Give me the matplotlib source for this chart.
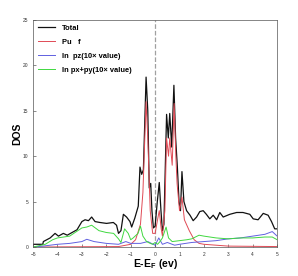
import numpy as np
import matplotlib
matplotlib.use('Agg')
from matplotlib import pyplot as plt

plt.rcParams['font.family'] = ['Liberation Sans', 'DejaVu Sans']
plt.rcParams['mathtext.fontset'] = 'custom'
plt.rcParams['mathtext.bf'] = 'Liberation Sans:bold'

# Values (energy in eV, DOS)
total_e = [-5.0, -4.6, -4.58, -4.3, -4.1, -3.96, -3.76, -3.6, -3.4, -3.2, -3.0, -2.87, -2.73, -2.6,
           -2.46, -2.26, -1.99, -1.71, -1.58, -1.5, -1.4, -1.3, -1.17, -1.03, -0.96, -0.83, -0.69,
           -0.62, -0.55, -0.48, -0.37, -0.3, -0.24, -0.18, -0.13, -0.07, 0.0, 0.09, 0.17, 0.24,
           0.3, 0.36, 0.47, 0.54, 0.6, 0.68, 0.77, 0.84, 0.91, 0.98, 1.04, 1.1, 1.18, 1.29, 1.43,
           1.56, 1.7, 1.83, 1.97, 2.1, 2.24, 2.38, 2.52, 2.65, 2.79, 3.06, 3.34, 3.6, 3.88, 4.02,
           4.22, 4.43, 4.63, 4.77, 4.9, 5.0]
total_dos = [0.3, 0.3, 0.6, 1.0, 1.5, 1.2, 1.5, 1.3, 1.6, 1.9, 2.8, 3.0, 2.9, 3.3,
             2.8, 2.7, 2.6, 2.7, 2.4, 1.5, 1.8, 3.6, 3.3, 2.8, 2.2, 3.2, 4.5,
             8.8, 8.0, 8.5, 18.7, 15.0, 6.5, 7.0, 4.0, 2.1, 2.3, 5.0, 7.1, 4.0,
             1.8, 2.5, 14.6, 12.0, 14.7, 11.0, 17.8, 12.0, 8.9, 5.0, 4.0, 8.3, 5.0, 4.0, 3.5,
             2.9, 3.3, 3.9, 4.0, 3.6, 3.1, 3.5, 3.0, 3.8, 3.3, 3.6, 3.8, 3.8, 3.6, 3.1,
             3.0, 3.7, 3.5, 2.8, 2.0, 2.0]

puf_e = [-5.0, -1.5, -1.0, -0.8, -0.6, -0.5, -0.37, -0.3, -0.2, -0.1, 0.0, 0.1, 0.17, 0.25, 0.3,
         0.4, 0.47, 0.55, 0.6, 0.7, 0.78, 0.85, 0.9, 1.0, 1.1, 1.2, 1.4, 1.6, 1.8, 2.0, 3.0, 5.0]
puf_dos = [0.0, 0.05, 0.3, 0.8, 2.5, 6.0, 16.0, 12.0, 4.0, 1.5, 1.5, 3.0, 4.0, 2.0, 1.2,
           4.0, 12.0, 10.0, 12.0, 9.0, 15.8, 10.0, 7.0, 4.0, 5.5, 3.0, 1.8, 0.8, 0.4, 0.3, 0.1, 0.05]

pz_e = [-5.0, -4.6, -4.0, -3.5, -3.0, -2.8, -2.5, -2.0, -1.5, -1.2, -1.0, -0.6, -0.3, 0.0, 0.15,
        0.3, 0.5, 0.8, 1.0, 1.5, 2.0, 2.5, 3.0, 3.5, 4.0, 4.5, 4.8, 5.0]
pz_dos = [0.0, 0.1, 0.3, 0.4, 0.6, 0.85, 0.6, 0.4, 0.3, 0.6, 0.4, 0.4, 0.6, 0.2, 1.0,
          0.3, 0.5, 0.2, 0.3, 0.5, 0.6, 0.7, 0.9, 1.0, 1.2, 1.4, 1.7, 1.2]

pxpy_e = [-5.0, -4.5, -4.2, -4.0, -3.5, -3.0, -2.8, -2.6, -2.3, -2.0, -1.7, -1.5, -1.4, -1.25,
          -1.1, -1.0, -0.9, -0.7, -0.6, -0.5, -0.35, -0.2, -0.1, 0.0, 0.1, 0.2, 0.3, 0.45, 0.55,
          0.7, 1.0, 1.3, 1.5, 1.8, 2.0, 2.5, 3.0, 3.5, 4.0, 4.5, 4.8, 5.0]
pxpy_dos = [0.0, 0.3, 0.8, 1.0, 1.2, 2.1, 2.2, 2.4, 1.8, 1.6, 1.5, 0.9, 0.5, 2.0,
            1.5, 0.8, 1.0, 1.5, 2.3, 1.2, 0.6, 0.4, 0.3, 0.5, 0.3, 0.6, 1.0, 2.2, 1.0,
            0.6, 0.7, 0.8, 0.9, 1.3, 1.2, 1.0, 0.9, 1.0, 1.0, 1.1, 1.1, 0.8]

labels = ['Total', 'Pu   f', 'In  pz(10\u00d7 value)', 'In px+py(10\u00d7 value)']

fig = plt.figure(figsize=(2.98, 2.76), dpi=100)
ax = fig.add_axes([0.111, 0.105, 0.819, 0.823])

ax.plot(total_e, total_dos, color='#111111', lw=0.9, label=labels[0])
ax.plot(puf_e, puf_dos, color='#e04a55', lw=0.7, label=labels[1])
ax.plot(pz_e, pz_dos, color='#6060e0', lw=0.7, label=labels[2])
ax.plot(pxpy_e, pxpy_dos, color='#40d840', lw=0.7, label=labels[3])

# Fermi level marker
ax.axvline(0, color='#a0a0a0', ls='--', lw=0.9, zorder=0)

ax.set_xlim(-5, 5)
ax.set_ylim(0, 25)
ax.set_xticks(np.arange(-5, 6, 1))
ax.set_yticks(np.arange(0, 26, 5))
ax.tick_params(direction='in', labelsize=3.5, length=2, width=0.4, colors='#333333')
for s in ax.spines.values():
    s.set_linewidth(0.5)
    s.set_color('#555555')

ax.set_xlabel(r'E-E$_\mathbf{F}$ (ev)', fontsize=7.5, fontweight='bold')
ax.set_ylabel('DOS', fontsize=7.5, fontweight='bold')
ax.xaxis.set_label_coords(0.5, -0.045)
ax.yaxis.set_label_coords(-0.045, 0.5)

leg = ax.legend(loc='upper left', frameon=False, prop={'size': 5.4, 'weight': 'bold'},
                handlelength=2.3, labelspacing=0.9, borderaxespad=0.25, handletextpad=0.9)

fig.savefig('out.png', dpi=100)
